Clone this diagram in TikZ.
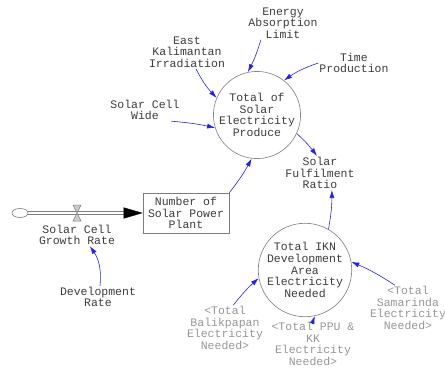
\documentclass[tikz,border=0pt]{standalone}
\usepackage{fontspec}
\setmonofont{Liberation Mono}
\usepackage{tikz}
\usetikzlibrary{shapes.geometric, arrows.meta, positioning}
\definecolor{blu}{RGB}{35,35,225}
\definecolor{grigio}{RGB}{125,125,125}
\definecolor{scuro}{RGB}{60,60,60}
\definecolor{chiaro}{RGB}{150,150,150}

\begin{document}
\begin{tikzpicture}[x=1pt, y=-1pt,
    etichetta/.style = {font=\ttfamily\fontsize{11.5}{11.6}\selectfont, text=scuro, align=center, inner sep=1pt},
    ombra/.style = {etichetta, text=chiaro},
    cerchio/.style = {etichetta, circle, draw=grigio, line width=0.6pt, minimum size=2*\raggio pt, inner sep=0pt},
    scatola/.style = {etichetta, rectangle, draw=grigio, line width=0.6pt, minimum width=86pt, minimum height=40pt},
    freccia/.style = {blu, line width=0.6pt, -{Latex[length=8pt,width=5pt]}},
    tubo/.style = {draw=grigio, line width=0.8pt},
    valvola/.style = {draw=grigio, fill=grigio!40, line width=0.5pt}]
    % Parametri
    \pgfmathsetmacro{\raggio}{42}
    \useasboundingbox (0,0) rectangle (445,369);
    % Livelli e ausiliari
    \node[cerchio] (tot) at (257,115) {Total of\\Solar\\Electricity\\Produce};
    \node[cerchio] (ikn) at (305,270) {Total IKN\\Development\\Area\\Electricity\\Needed};
    \node[scatola] (box) at (186,213) {Number of\\Solar Power\\Plant};
    % Variabili
    \node[etichetta] (energy) at (283,23) {Energy\\Absorption\\Limit};
    \node[etichetta] (east) at (187,52) {East\\Kalimantan\\Irradiation};
    \node[etichetta] (time) at (354,63) {Time\\Production};
    \node[etichetta] (wide) at (145,110) {Solar Cell\\Wide};
    \node[etichetta] (ratio) at (320,173) {Solar\\Fulfilment\\Ratio};
    \node[etichetta] (devrate) at (98,297) {Development\\Rate};
    % Variabili ombra
    \node[ombra] (balik) at (225,328) {<Total\\Balikpapan\\Electricity\\Needed>};
    \node[ombra] (ppu) at (313,344) {<Total PPU \&\\KK\\Electricity\\Needed>};
    \node[ombra] (samar) at (408,308) {<Total\\Samarinda\\Electricity\\Needed>};
    % Flusso
    \node[ellipse, draw=grigio, line width=0.6pt, minimum width=16pt, minimum height=9pt, inner sep=0pt] (cloud) at (20,213) {};
    \node[inner sep=0pt] (valve) at (77,213) {};
    \coordinate[left=19pt of box.west] (tipbase);
    \draw[tubo] ([yshift=-1.5pt]cloud.east) -- ([yshift=-1.5pt]tipbase);
    \draw[tubo] ([yshift=1.5pt]cloud.east) -- ([yshift=1.5pt]tipbase);
    \draw[black, -{Triangle[length=19pt,width=11pt]}] (tipbase) -- (box.west);
    \draw[valvola] (valve) ++(-4,-8) -- ++(8,0) -- ++(-8,16) -- ++(8,0) -- cycle;
    \node[etichetta, below=10pt of valve] (growth) {Solar Cell\\Growth Rate};
    % Frecce
    \draw[freccia] (energy.217) to[bend left=5] (tot.102);
    \draw[freccia] (east.-62) to[bend right=8] (tot.157);
    \draw[freccia] (time.west) to[bend right=8] (tot.52);
    \draw[freccia] (wide.-23) to[bend left=4] (tot.197);
    \draw[freccia] (tot.-25) to[bend left=5] (ratio.100);
    \draw[freccia] (box.north east) to[bend right=5] (tot.263);
    \draw[freccia] (ikn.60) to[bend right=5] (ratio.-55);
    \draw[freccia] (balik.70) to[bend left=5] (ikn.190);
    \draw[freccia] (ppu.north) -- (ikn.-78);
    \draw[freccia] (samar.120) to[bend right=5] (ikn.10);
    \draw[freccia] (devrate.80) to[bend right=20] (growth.-41);
\end{tikzpicture}
\end{document}
